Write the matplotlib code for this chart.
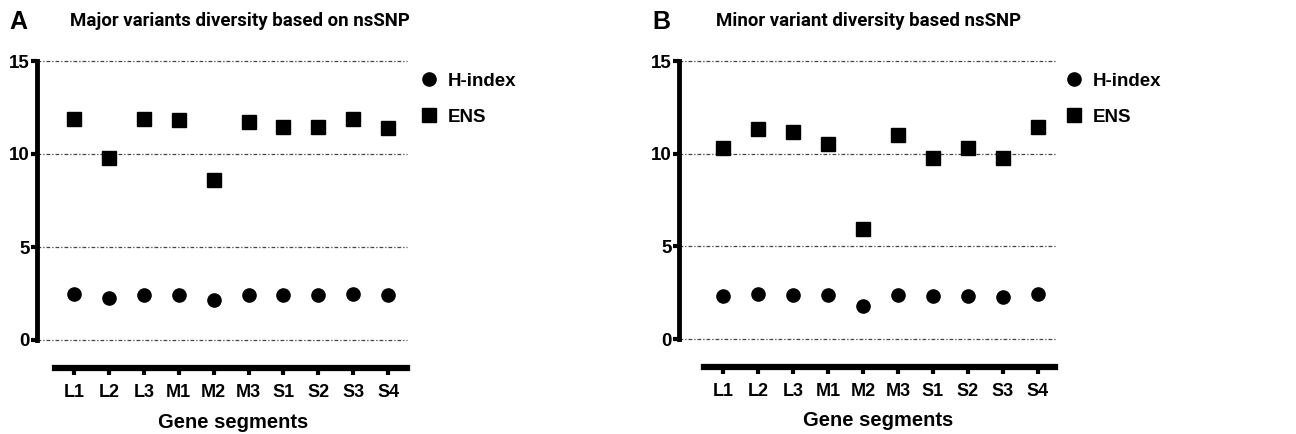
import matplotlib
matplotlib.use("Agg")
import matplotlib.pyplot as plt

segments = ["L1", "L2", "L3", "M1", "M2", "M3", "S1", "S2", "S3", "S4"]

# panel A: major variants
major_h = [2.47, 2.27, 2.44, 2.44, 2.13, 2.44, 2.40, 2.40, 2.46, 2.40]
major_ens = [11.88, 9.77, 11.90, 11.83, 8.60, 11.74, 11.43, 11.43, 11.88, 11.40]

# panel B: minor variants
minor_h = [2.34, 2.41, 2.37, 2.35, 1.76, 2.39, 2.30, 2.34, 2.27, 2.44]
minor_ens = [10.32, 11.33, 11.17, 10.54, 5.94, 11.00, 9.75, 10.30, 9.75, 11.44]

yticks = [0, 5, 10, 15]

TICKFAM = "Liberation Sans"
TITLEFAM = "Roboto"

W, H = 1296, 434
fig = plt.figure(figsize=(W / 100, H / 100), dpi=100)
fig.patch.set_facecolor("white")


def panel(rect, xlim, xstart, h, ens, letter, title, letter_x, title_x, leg_x):
    ax = fig.add_axes(rect)
    x = list(range(len(segments)))
    for yv in yticks:
        ax.axhline(yv, color="#444", lw=0.9, ls=(0, (3, 1.6, 1, 1.6)), zorder=1, clip_on=False)
    ax.plot(x, h, "o", color="black", ms=9.5, ls="none", zorder=3, label="H-index")
    ax.plot(x, ens, "s", color="black", ms=9.5, ls="none", zorder=3, label="ENS")
    ax.set_xlim(*xlim)
    ax.set_ylim(0, 15)
    for s in ("top", "right"):
        ax.spines[s].set_visible(False)
    ax.spines["left"].set_linewidth(3.5)
    ax.spines["left"].set_bounds(0, 15)
    ax.spines["bottom"].set_linewidth(4.5)
    ax.spines["bottom"].set_position(("outward", 20))
    ax.spines["bottom"].set_bounds(xstart, xlim[1])
    ax.set_yticks(yticks)
    ax.set_xticks(x)
    ax.set_xticklabels(segments)
    ax.tick_params(axis="y", length=4, width=3, pad=1, labelsize=13.5)
    ax.tick_params(axis="x", length=5, width=3, pad=6.5, labelsize=13)
    for lab in ax.get_xticklabels() + ax.get_yticklabels():
        lab.set_fontfamily(TICKFAM)
        lab.set_fontweight("bold")
    ax.set_xlabel("Gene segments", fontsize=14.5, family=TICKFAM, weight="bold")
    ax.xaxis.set_label_coords(0.53, -0.26)
    ax.legend(loc="upper left", bbox_to_anchor=(leg_x, 0.985), frameon=False,
              handlelength=0.6, handletextpad=0.7, labelspacing=1.0,
              prop=dict(family=TICKFAM, weight="bold", size=13.5),
              borderaxespad=0)
    fig.text(letter_x / W, 1 - 22 / H, letter, fontsize=18, va="center", ha="left",
             family=TICKFAM, weight="bold")
    fig.text(title_x / W, 1 - 21 / H, title, fontsize=13.4, va="center", ha="left",
             family=TITLEFAM, weight="bold")
    return ax


panel([37 / W, 1 - 340 / H, 370 / W, 279 / H], (-1.06, 9.54), -0.54,
      major_h, major_ens, "A", "Major variants diversity based on nsSNP", 9, 70, 1.025)
panel([679 / W, 1 - 339 / H, 376 / W, 278 / H], (-1.27, 9.5), -0.55,
      minor_h, minor_ens, "B", "Minor variant diversity based nsSNP", 652, 716, 1.015)

fig.savefig("out.png", dpi=100, facecolor="white")
